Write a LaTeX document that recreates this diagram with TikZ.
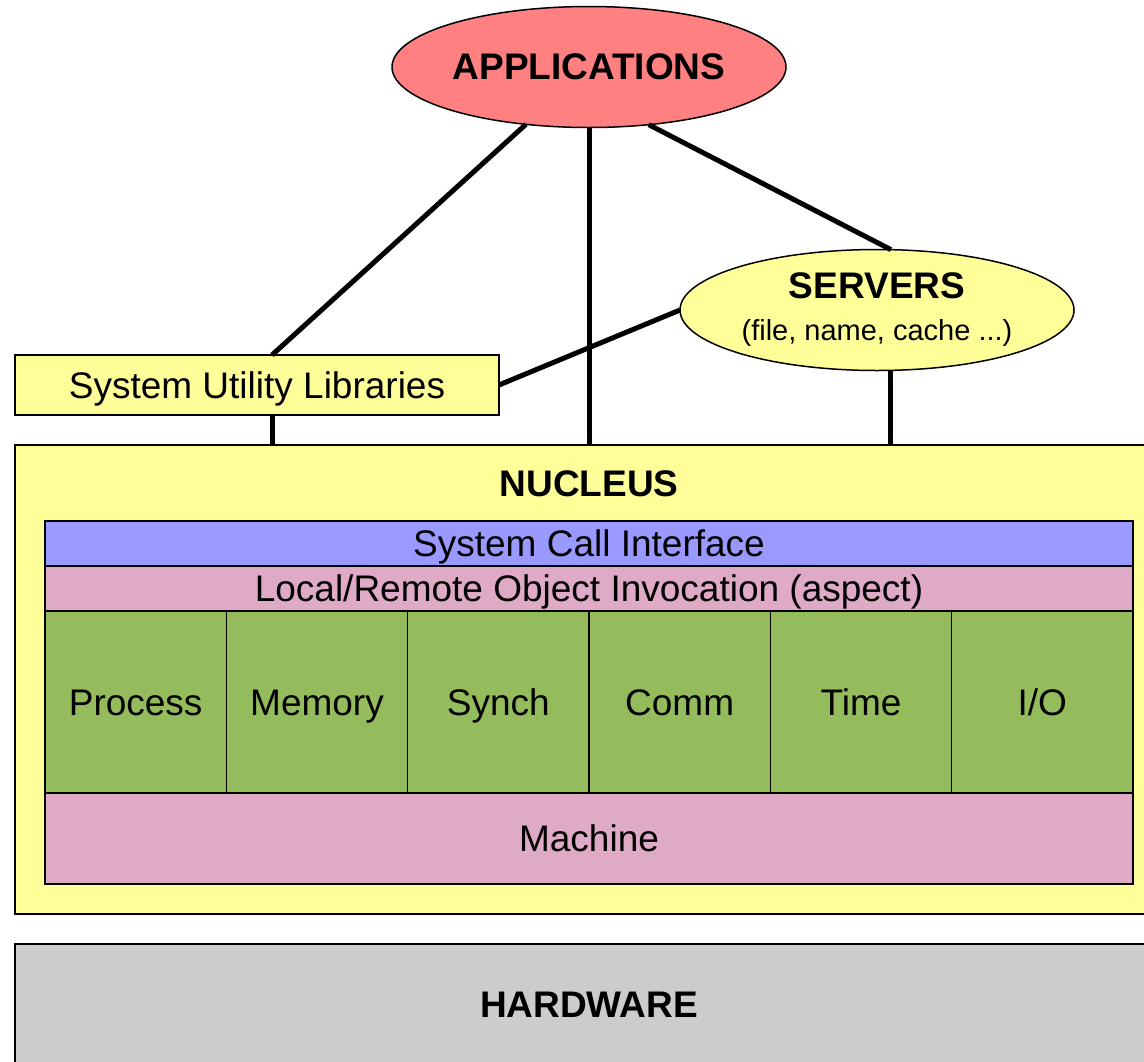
\documentclass[tikz,border=0pt]{standalone}
\usepackage{fontspec}
\setmainfont{Liberation Sans}
\usetikzlibrary{shapes.geometric}
\definecolor{appred}{HTML}{FF8080}
\definecolor{yel}{HTML}{FFFF99}
\definecolor{sciblue}{HTML}{9999FF}
\definecolor{pinkc}{HTML}{DEAAC6}
\definecolor{greenc}{HTML}{94BC5C}
\definecolor{grayc}{HTML}{CCCCCC}
\tikzset{
  bigtxt/.style={font=\fontsize{37}{44}\selectfont},
  boxc/.style={draw=black, line width=1.5pt, inner sep=0pt, outer sep=0pt, bigtxt, text height=26.5pt, text depth=0pt},
  ell/.style={ellipse, draw=black, line width=1.5pt, inner sep=0pt, outer sep=0pt, minimum width=394pt, minimum height=121pt, bigtxt},
  conn/.style={line width=5pt, black},
  cell/.style={boxc, fill=greenc, minimum width=181.33pt, minimum height=182pt}
}
\begin{document}
\begin{tikzpicture}[x=1pt,y=-1pt]
\useasboundingbox (0,0) rectangle (1144,1061);
\clip (0,0) rectangle (1144,1061);
% top ellipses and libraries
\node[ell, fill=appred] (app) at (589,67) {\bfseries APPLICATIONS};
\node[ell, fill=yel, align=center] (srv) at (877,310) {\bfseries SERVERS\\[-2pt]{\fontsize{29}{34}\selectfont (file, name, cache ...)}\rule[-6pt]{0pt}{1pt}};
\node[boxc, fill=yel, minimum width=484pt, minimum height=60pt] (sul) at (257,385) {System Utility Libraries};
% nucleus
\node[boxc, fill=yel, minimum width=1148pt, minimum height=469pt] (nuc) at (589,679.5) {};
\node[bigtxt, inner sep=0pt] (nuclabel) at (589,484) {\bfseries NUCLEUS};
\node[boxc, fill=sciblue, minimum width=1088pt, minimum height=45pt] (sci) at (589,543.5) {System Call Interface};
\node[boxc, fill=pinkc, minimum width=1088pt, minimum height=45pt] (lro) at (589,588.5) {Local/Remote Object Invocation (aspect)};
\node[cell] (proc) at (135.67,702) {Process};
\node[cell] (mem) at (317,702) {Memory};
\node[cell] (syn) at (498.33,702) {Synch};
\node[cell] (comm) at (679.67,702) {Comm};
\node[cell] (time) at (861,702) {Time};
\node[cell] (io) at (1042.33,702) {I/O};
\node[boxc, fill=pinkc, minimum width=1088pt, minimum height=91pt] (mach) at (589,838.5) {Machine};
% hardware
\node[boxc, fill=grayc, minimum width=1148pt, minimum height=120pt] (hw) at (589,1004) {\bfseries HARDWARE};
% connectors
\coordinate (sulN) at (272,355);
\draw[conn] (app) -- (sulN);
\draw[conn] (app.south) -- (nuc.north);
\draw[conn] (app.-44.5) -- (srv.77);
\draw[conn] (sul.east) -- (srv.west);
\draw[conn] (sul.south -| sulN) -- (nuc.north -| sulN);
\draw[conn] (srv.-77) -- (srv.-77 |- nuc.north);
\end{tikzpicture}
\end{document}
